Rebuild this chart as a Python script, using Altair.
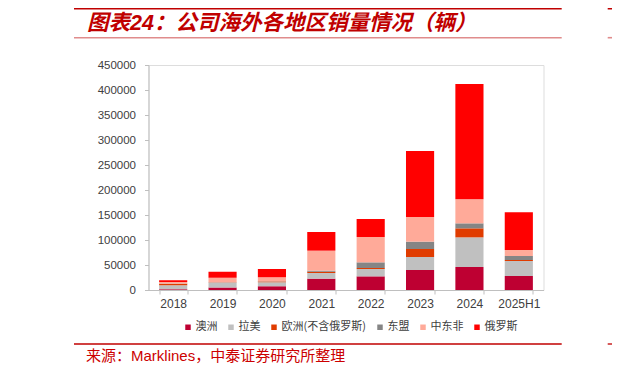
import altair as alt
import pandas as pd

years = ["2018", "2019", "2020", "2021", "2022", "2023", "2024", "2025H1"]
regions = ["澳洲", "拉美", "欧洲(不含俄罗斯)", "东盟", "中东非", "俄罗斯"]
colors = ["#BE0032", "#C0C0C0", "#E03C00", "#858585", "#FFAA99", "#FF0000"]

australia = [1500, 5000, 7300, 22700, 27300, 40000, 46000, 28000]
latam = [8000, 9500, 8000, 11300, 14700, 26000, 59300, 30000]
europe = [3000, 500, 1500, 2500, 2000, 16000, 18000, 2000]
asean = [500, 300, 500, 2200, 11300, 14700, 10000, 8000]
mea = [3000, 9000, 8000, 40000, 50700, 49300, 48000, 12000]
russia = [3500, 12300, 16700, 37300, 36000, 132000, 230700, 75300]

title_text = "图表24：公司海外各地区销量情况（辆）"
source_text = "来源：Marklines，中泰证券研究所整理"

series = [australia, latam, europe, asean, mea, russia]
rows = []
for ri, (name, vals) in enumerate(zip(regions, series)):
    for y, v in zip(years, vals):
        rows.append({"year": y, "region": name, "value": v, "idx": ri})
df = pd.DataFrame(rows)

W, H = 395, 225
RED = "#C00000"

bars = alt.Chart(df).mark_bar().encode(
    x=alt.X("year:N", sort=years, title=None,
            scale=alt.Scale(paddingInner=0.43, paddingOuter=0.215),
            axis=alt.Axis(labelAngle=0, tickBand="extent", tickSize=4,
                          domainColor="#BFBFBF", tickColor="#BFBFBF",
                          labelFont="Liberation Sans", labelFontSize=12,
                          labelColor="#404040", labelPadding=4)),
    y=alt.Y("value:Q", title=None,
            scale=alt.Scale(domain=[0, 450000], nice=False),
            axis=alt.Axis(values=list(range(0, 450001, 50000)), format="d",
                          grid=False, tickSize=4, domainColor="#BFBFBF",
                          tickColor="#BFBFBF", labelFont="Liberation Sans",
                          labelFontSize=11.5, labelColor="#404040",
                          labelPadding=9)),
    color=alt.Color("region:N",
                    scale=alt.Scale(domain=regions, range=colors),
                    legend=alt.Legend(title=None, orient="none",
                                      direction="horizontal",
                                      legendX=34, legendY=256.5,
                                      symbolType="square", symbolSize=30,
                                      symbolStrokeWidth=0,
                                      labelFont="Noto Sans CJK SC",
                                      labelFontSize=11, labelColor="#404040",
                                      labelOffset=2, columnPadding=8)),
    order=alt.Order("idx:Q", sort="ascending"),
)

one = pd.DataFrame({"k": [0]})


def hline(x1, x2, y, color, width):
    return alt.Chart(one).mark_rule(color=color, strokeWidth=width).encode(
        x=alt.value(x1), x2=alt.value(x2), y=alt.value(y))


ox, oy = 148.5, 65  # plot origin on page
decor = [
    hline(74 - ox, 561.7 - ox, 8.2 - oy, RED, 2.6),
    hline(607.7 - ox, 625 - ox, 8.2 - oy, RED, 2.6),
    hline(74 - ox, 561.7 - ox, 37.7 - oy, "#E08C8C", 1.6),
    hline(607.7 - ox, 625 - ox, 37.7 - oy, "#E08C8C", 1.6),
    hline(74 - ox, 561.7 - ox, 344 - oy, RED, 1.3),
    hline(607.7 - ox, 625 - ox, 344 - oy, RED, 1.3),
]

title = alt.Chart(one).mark_text(
    text=title_text, align="left", baseline="middle", fontSize=21.5,
    fontWeight="bold", fontStyle="italic", color=RED,
    font="Liberation Sans, Noto Sans CJK SC",
).encode(x=alt.value(87 - ox), y=alt.value(24 - oy))

source = alt.Chart(one).mark_text(
    text=source_text, align="left", baseline="middle", fontSize=15,
    color="#CC0000", font="Liberation Sans, Noto Sans CJK SC",
).encode(x=alt.value(86 - ox), y=alt.value(356 - oy))

chart = alt.layer(bars, title, source, *decor).properties(
    width=W, height=H,
    autosize=alt.AutoSizeParams(type="none"),
    padding={"left": 140.5, "top": 57, "right": 68, "bottom": 74},
).configure_view(stroke="transparent").configure(background="white")

chart.save("out.html", embed_options={"renderer": "svg", "actions": False})
